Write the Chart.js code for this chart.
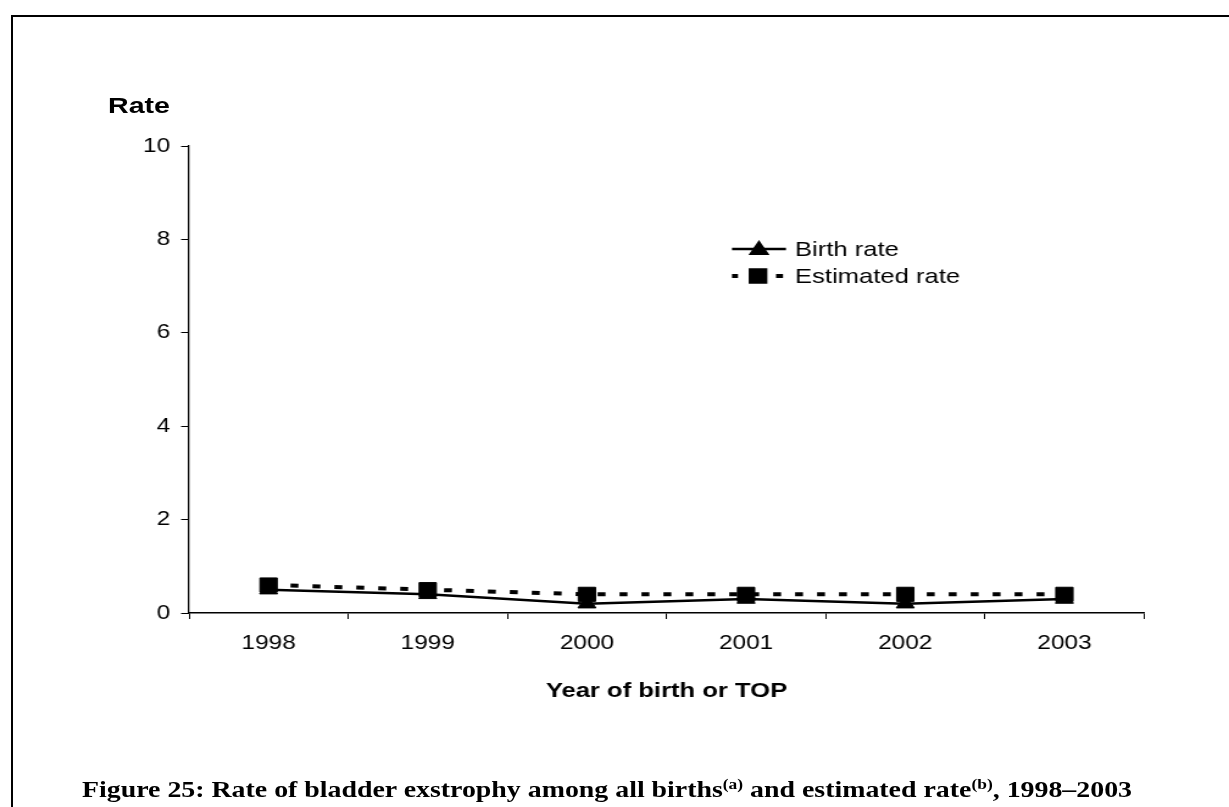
<!DOCTYPE html>
<html><head><meta charset="utf-8">
<script src="https://cdn.jsdelivr.net/npm/chart.js@4/dist/chart.umd.min.js"></script>
<style>
html,body{margin:0;padding:0;background:#fff;overflow:hidden;width:1229px;height:807px;}
#frame{position:absolute;left:11px;top:15px;width:1400px;height:1000px;border-top:2px solid #000;border-left:2px solid #000;box-sizing:border-box;}
#wrap{position:absolute;left:0;top:0;width:1008px;height:807px;transform-origin:0 0;}
#ytitle{position:absolute;left:108px;top:95px;font:bold 22px "Liberation Sans",Arial,sans-serif;line-height:22px;color:#000;white-space:nowrap;transform-origin:0 0;}
#caption{position:absolute;top:777px;left:0;white-space:nowrap;font:bold 24px "Liberation Serif","Times New Roman",serif;line-height:24px;color:#000;transform-origin:0 0;}
#caption sup{font-size:15px;vertical-align:0;position:relative;top:-8px;}
</style>
</head><body>
<div id="frame"></div>
<div id="wrap"><canvas id="c" width="1008" height="807"></canvas></div>
<div id="ytitle">Rate</div>
<div id="caption">Figure 25: Rate of bladder exstrophy among all births<sup>(a)</sup> and estimated rate<sup>(b)</sup>, 1998–2003</div>
<script>
const years = ['1998', '1999', '2000', '2001', '2002', '2003'];
const birthRate = [0.5, 0.4, 0.2, 0.3, 0.2, 0.3];
const estimatedRate = [0.6, 0.5, 0.4, 0.4, 0.4, 0.4];
const seriesNames = ['Birth rate', 'Estimated rate'];
const yMin = 0, yMax = 10, yStep = 2;
const xTitle = 'Year of birth or TOP';

const FONT = '"Liberation Sans", Arial, sans-serif';
// the reference figure is stretched horizontally; draw on a narrower canvas and stretch it
const PAGE_W = 1229, CANVAS_W = 1008;
const SX = PAGE_W / CANVAS_W;
const toC = v => v / SX;   // page x -> canvas x
document.getElementById('wrap').style.transform = 'scaleX(' + SX + ')';

const legendPlugin = {
  id: 'customLegend',
  afterDraw(chart) {
    const ctx = chart.ctx;
    const ds = chart.data.datasets;
    ctx.save();
    ctx.strokeStyle = '#000';
    ctx.fillStyle = '#000';
    ctx.font = '21px ' + FONT;
    ctx.textBaseline = 'middle';
    ctx.textAlign = 'left';
    // entry 1: solid line with triangle
    let y = 249;
    ctx.lineWidth = 2.5;
    ctx.beginPath(); ctx.moveTo(toC(732), y); ctx.lineTo(toC(786), y); ctx.stroke();
    Chart.helpers.drawPoint(ctx, {pointStyle: 'triangle', radius: 7.5, borderWidth: 1}, toC(759), y + 1);
    ctx.fillText(ds[0].label, toC(795), y + 1);
    // entry 2: dashes with square
    y = 276;
    ctx.lineWidth = 4;
    ctx.beginPath(); ctx.moveTo(toC(732), y); ctx.lineTo(toC(738), y); ctx.stroke();
    ctx.beginPath(); ctx.moveTo(toC(776), y); ctx.lineTo(toC(783), y); ctx.stroke();
    Chart.helpers.drawPoint(ctx, {pointStyle: 'rect', radius: 8, borderWidth: 1}, toC(758), y);
    ctx.fillText(ds[1].label, toC(795), y + 1);
    ctx.restore();
  }
};

new Chart(document.getElementById('c'), {
  type: 'line',
  data: {
    labels: years,
    datasets: [
      {
        label: seriesNames[0],
        data: birthRate,
        borderColor: '#000',
        backgroundColor: '#000',
        borderWidth: 2.5,
        pointStyle: 'triangle',
        pointRadius: 8.5,
        pointBorderWidth: 1,
        tension: 0,
        order: 1
      },
      {
        label: seriesNames[1],
        data: estimatedRate,
        borderColor: '#000',
        backgroundColor: '#000',
        borderWidth: 4,
        borderDash: [6.5, 11.5],
        pointStyle: 'rect',
        pointRadius: 10,
        pointBorderWidth: 1,
        tension: 0,
        order: 2
      }
    ]
  },
  options: {
    responsive: false,
    animation: false,
    devicePixelRatio: 1,
    layout: {padding: {top: 146, right: CANVAS_W - toC(1144), bottom: 0, left: 0}},
    plugins: {legend: {display: false}, tooltip: {enabled: false}, title: {display: false}},
    scales: {
      x: {
        type: 'category',
        offset: true,
        grid: {display: true, drawOnChartArea: false, drawTicks: true, tickLength: 6, color: '#000', lineWidth: 1, offset: true},
        border: {display: true, color: '#000', width: 1.5},
        ticks: {color: '#000', font: {family: FONT, size: 20}, padding: 12, maxRotation: 0},
        title: {display: true, text: xTitle, color: '#000', font: {family: FONT, size: 21, weight: 'bold'}, padding: {top: 0, bottom: 103}},
        afterFit(scale) { scale.height = 194; }
      },
      y: {
        min: yMin, max: yMax,
        ticks: {stepSize: yStep, color: '#000', font: {family: FONT, size: 20}, padding: 9},
        grid: {display: true, drawOnChartArea: false, drawTicks: true, tickLength: 6.5, color: '#000', lineWidth: 1},
        border: {display: true, color: '#000', width: 1.3},
        afterFit(scale) { scale.width = toC(189); }
      }
    }
  },
  plugins: [legendPlugin]
});

// stretch HTML texts to the spans measured on the reference
function fitText(id, left, targetW) {
  const el = document.getElementById(id);
  const w = el.getBoundingClientRect().width;
  el.style.transform = 'scaleX(' + (targetW / w) + ')';
  el.style.left = left + 'px';
}
fitText('ytitle', 108, 62);
fitText('caption', 82, 1050);
</script>
</body></html>
